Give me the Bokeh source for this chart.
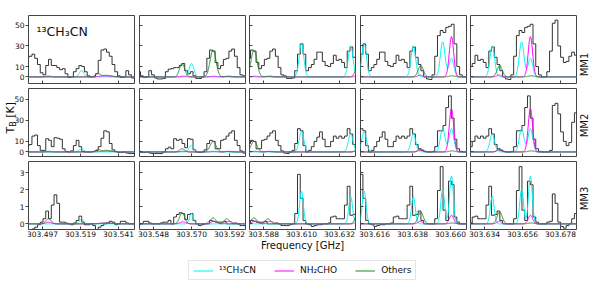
import numpy as np
from bokeh.plotting import figure
from bokeh.layouts import column, row
from bokeh.models import (Range1d, FixedTicker, PrintfTickFormatter, Label, Legend, LegendItem)
from bokeh.core.properties import value
from bokeh.embed import file_html
from bokeh.resources import INLINE

FONT = "DejaVu Sans"
SOURCES = ["MM1", "MM2", "MM3"]
TICK0 = [303.497, 303.548, 303.588, 303.616, 303.634]
TICK_STEP = 0.022
YTICKS = [[0, 10, 30, 50], [0, 10, 30, 50], [0, 1, 2, 3]]
YLIM = [(-6.4, 59.5), (-4.3, 60.0), (-0.33, 3.65)]

CHAN_FREQ = [
    303.4885, 303.4901, 303.4917, 303.4933, 303.4949, 303.4965, 303.4981, 303.4997, 303.5013, 303.5029,
    303.5045, 303.5061, 303.5077, 303.5093, 303.5109, 303.5125, 303.5141, 303.5157, 303.5173, 303.5189,
    303.5205, 303.5221, 303.5237, 303.5253, 303.5269, 303.5285, 303.5301, 303.5317, 303.5333, 303.5349,
    303.5365, 303.5381, 303.5397, 303.5413, 303.5429, 303.5445, 303.5461, 303.5477, 303.5493, 303.5509,
    303.5525, 303.5541, 303.5557, 303.5573, 303.5589, 303.5605, 303.5621, 303.5637, 303.5653, 303.5669,
    303.5685, 303.5701, 303.5717, 303.5733, 303.5749, 303.5765, 303.5781, 303.5797, 303.5813, 303.5829,
    303.5845, 303.5861, 303.5877, 303.5893, 303.5909, 303.5925, 303.5941, 303.5957, 303.5973, 303.5989,
    303.6005, 303.6021, 303.6037, 303.6053, 303.6069, 303.6085, 303.6101, 303.6117, 303.6133, 303.6149,
    303.6165, 303.6181, 303.6197, 303.6213, 303.6229, 303.6245, 303.6261, 303.6277, 303.6293, 303.6309,
    303.6325, 303.6341, 303.6357, 303.6373, 303.6389, 303.6405, 303.6421, 303.6437, 303.6453, 303.6469,
    303.6485, 303.6501, 303.6517, 303.6533, 303.6549, 303.6565, 303.6581, 303.6597, 303.6613, 303.6629,
    303.6645, 303.6661, 303.6677, 303.6693, 303.6709, 303.6725, 303.6741, 303.6757, 303.6773, 303.6789,
    303.6805, 303.6821, 303.6837, 303.6853, 303.6869, 303.6885]

TB_MM1 = [
    19, 20, 22, 18, 12, 4, 2, 11, 17, 11,
    11, 9, 7, 8, 3, -0.5, 0, 5, 8, 11,
    10, 5, 1, 0, 0, 3, 16, 26, 27, 24,
    20, 12, 5, 1, -0.5, 0, 6, 2, -1, -2,
    -2, -1.5, 5, 7.5, 8, 9, 9, 11, 13, 6,
    3, 5, 1, -1.5, -1.5, 0, 5, 18, 26, 25,
    14, 8, 11, 17, 18, 25, 27, 20, 9, 2,
    1, -1.5, -1.5, -1, 6, 22, 32, 22, 6, 9,
    12, 17, 24, 24, 15, 11, 10, 13, 21, 16,
    17, 14, 9, 25, 29, 19, 12, 6, 0, -2,
    -2.5, 2, 20, 40, 45, 43, 48, 49, 51, 32,
    10, 2, 0, 0, 5, 25, 52, 55, 30, 19,
    14, 15, 20, 24, 21, 21]

TB_MM2 = [
    6, 7, 15, 16, 6, 1.5, 1.5, 12.5, 11, 5,
    13.5, 13, 12, 3, 0.5, 0, 1, 6, 11, 5,
    0.5, 0, 0, 0, 0.5, 1.5, 5, 13, 20, 19,
    8, 2, 0.5, -0.5, -0.5, 0, -1, -1.5, -1.5, -1.5,
    -1.5, 0, 3, 4.5, 3, 12.5, 11, 12, 8, 4,
    12.5, 12, 2, 0, -0.5, 0, 2, 8, 11, 10,
    3, 3, 11, 12, 15, 18, 20, 11, 6, 1,
    -1, -1.5, 0, 1.5, 8, 22, 20, 6, 0, 1.5,
    5, 10, 14, 19, 12, 5, 5, 10, 15, 13,
    15, 13, 15, 22, 17, 7, 3, 1.5, 0.5, 0,
    0, 0.5, 5, 20, 20, 25, 42, 53, 32, 12,
    3, 0.5, 0, 0, 0, 1.5, 44, 46, 36, 19,
    10, 6, 9, 28, 37, 37]

TB_MM3 = [
    -0.35, -0.35, -0.3, -0.2, -0.05, 0.1, 0.3, 0.75, 0.3, 1.1,
    1.7, 1.2, 0.1, 0.1, 0.05, 0, -0.05, 0.05, 0.2, 0.45,
    0.1, -0.05, -0.05, 0, -0.1, -0.35, -0.2, -0.1, 0, 0.05,
    0.15, 0.1, -0.05, 0, 0.15, 0.15, 0.05, 0, 0, 0,
    0.05, 0.1, 0.1, 0.2, 0, 0.4, 0.55, 0.65, 0.6, 0.25,
    0.55, 0.6, 0.2, 0, -0.1, -0.05, 0, 0, 0.2, 0.15,
    0.1, 0.1, 0.1, 0.15, 0, 0, 0, 0.05, 0, -0.1,
    -0.1, -0.1, -0.05, 0, 0.6, 2.9, 1.5, 0.2, 0, -0.05,
    -0.15, -0.1, -0.05, -0.05, 0, 0, 0.05, 0.4, 0.45, 0.3,
    0.3, 0.3, 1.1, 2.2, 0.5, 0.55, 0.75, 0.2, 0, 0,
    0, 0, 0.3, 1.95, 3.35, 0.8, 0.2, 2.5, 2.3, 0.4,
    0.1, 0, 0, 0, 0.1, 0.15, 1.75, 1.2, 0.1, -0.15,
    -0.25, -0.1, 0, 0.3, 0.6, 0.6]

# Fitted Gaussian components (centre GHz, peak K, FWHM GHz)
CH3CN_NU = [303.5196, 303.5700, 303.6100, 303.6385, 303.6555, 303.6606]
CH3CN_PEAK = {"MM1": [6, 13, 32, 30, 34, 18],
              "MM2": [3, 6, 19, 17, 22, 22],
              "MM3": [0.3, 0.6, 1.9, 1.6, 2.0, 2.8]}
CH3CN_FWHM = {"MM1": 0.0032, "MM2": 0.0032, "MM3": 0.0026}

NH2CHO_NU = [303.5005, 303.5335, 303.5650, 303.5830, 303.5920, 303.6425, 303.6606]
NH2CHO_PEAK = {"MM1": [0.8, 1.0, 0.6, 0.6, 0.7, 1.8, 39],
               "MM2": [0.6, 0.8, 0.6, 0.6, 0.6, 1.8, 41],
               "MM3": [0.1, 0.05, 0.12, 0.15, 0.15, 0.15, 0.5]}
NH2CHO_FWHM = [0.004, 0.008, 0.004, 0.004, 0.004, 0.003, 0.003]

OTHERS_NU = [303.5005, 303.5290, 303.5340, 303.5646, 303.5825, 303.5905, 303.6428, 303.6610]
OTHERS_PEAK = {"MM1": [0.0, 3.0, 1.5, 13, 26, 0.5, 11, 1.0],
               "MM2": [0.0, 2.0, 1.5, 3, 10, 0.5, 3, 1.0],
               "MM3": [0.3, 0.0, 0.05, 0.65, 0.35, 0.3, 0.7, 0.05]}
OTHERS_FWHM = [0.0035, 0.003, 0.007, 0.0035, 0.0040, 0.0035, 0.0035, 0.004]

MODEL_FREQ = np.linspace(303.484, 303.692, 1600)


def model(nus, peaks, fwhms):
    out = np.zeros_like(MODEL_FREQ)
    for nu, pk, fw in zip(nus, peaks, fwhms):
        out += pk * np.exp(-4 * np.log(2) * (MODEL_FREQ - nu) ** 2 / fw ** 2)
    return out


SPECTRA = {"MM1": TB_MM1, "MM2": TB_MM2, "MM3": TB_MM3}
C_CYAN, C_MAG, C_GREEN = "#00f0f0", "#ff00ff", "#1a8a1a"
EDGE = "#444444"
TXT = "#111111"

FRAME_W, FRAME_H = 106, 68
LEFT_B = [28, 3, 2, 3, 2]
RIGHT_B = [2, 2, 2, 2, 2]
TOP_B = [15, 3, 3]
BOT_B = [2, 2, 12]
ROW_H = [TOP_B[0] + FRAME_H + BOT_B[0], TOP_B[1] + FRAME_H + BOT_B[1], TOP_B[2] + FRAME_H + 21]
STRIP_W = 25   # left strip of the middle row: tick numbers + y-axis title
MM_W = 12


def text_fig(w, h):
    f = figure(frame_width=w, frame_height=h, output_backend="svg", toolbar_location=None,
               min_border=0, x_axis_location=None, y_axis_location=None,
               x_range=Range1d(0, w), y_range=Range1d(h, 0))
    f.outline_line_color = None
    f.grid.grid_line_color = None
    f.border_fill_color = "white"
    return f


models = {}
rows = []
for r, src in enumerate(SOURCES):
    figs = []
    cy = model(CH3CN_NU, CH3CN_PEAK[src], [CH3CN_FWHM[src]] * len(CH3CN_NU))
    mg = model(NH2CHO_NU, NH2CHO_PEAK[src], NH2CHO_FWHM)
    gr = model(OTHERS_NU, OTHERS_PEAK[src], OTHERS_FWHM)
    models[src] = (cy, mg, gr)
    yr = Range1d(*YLIM[r])
    if r == 1:
        strip = figure(frame_width=STRIP_W, frame_height=FRAME_H, output_backend="svg",
                       toolbar_location=None, min_border_left=0, min_border_right=0,
                       min_border_top=TOP_B[1], min_border_bottom=BOT_B[1],
                       x_axis_location=None, y_axis_location=None,
                       x_range=Range1d(0, STRIP_W), y_range=yr)
        strip.outline_line_color = None
        strip.grid.grid_line_color = None
        strip.border_fill_color = "white"
        # tick numbers, placed on the shared y scale of the MM2 panels
        strip.text(x=[23.5] * len(YTICKS[1]), y=YTICKS[1], text=[str(t) for t in YTICKS[1]],
                   text_align="right", text_baseline="middle", text_font=value(FONT),
                   text_font_size="7.5px", text_color=TXT)
        # y-axis title  T_B [K]
        strip.text(x=[10, 12.5, 10], y=[17.4, 23.8, 32.3], text=["T", "B", "[K]"],
                   angle=[np.pi / 2] * 3, text_font=value(FONT),
                   text_font_size=["11px", "8px", "11px"], text_baseline="middle",
                   text_align="left", text_color=TXT)
        figs.append(strip)
    for c, t0 in enumerate(TICK0):
        x0, x1 = t0 - 0.0081, t0 + 0.0533
        lb = LEFT_B[c] - (STRIP_W if (r == 1 and c == 0) else 0)
        p = figure(frame_width=FRAME_W, frame_height=FRAME_H, output_backend="svg",
                   toolbar_location=None, x_range=Range1d(x0, x1), y_range=yr,
                   min_border_left=lb, min_border_right=RIGHT_B[c],
                   min_border_top=TOP_B[r], min_border_bottom=BOT_B[r])
        p.grid.visible = False
        p.outline_line_color = EDGE
        p.outline_line_width = 1
        p.background_fill_color = "white"
        p.border_fill_color = "white"

        xa = p.xaxis[0]
        xa.ticker = FixedTicker(ticks=[t0, t0 + TICK_STEP, t0 + 2 * TICK_STEP])
        xa.formatter = PrintfTickFormatter(format="%.3f")
        xa.major_tick_in = 3
        xa.major_tick_out = 0
        xa.minor_tick_in = 0
        xa.minor_tick_out = 0
        xa.axis_line_color = None
        xa.major_tick_line_color = EDGE
        if r == 2:
            xa.major_label_text_font_size = "7.5px"
            xa.major_label_text_font = FONT
            xa.major_label_text_color = TXT
            xa.major_label_standoff = 1
            if c == 2:
                xa.axis_label = "Frequency [GHz]"
                xa.axis_label_text_font = FONT
                xa.axis_label_text_font_size = "10px"
                xa.axis_label_text_font_style = "normal"
                xa.axis_label_standoff = 0
                xa.axis_label_text_color = TXT
        else:
            xa.major_label_text_font_size = "0px"
            xa.major_label_standoff = 0

        ya = p.yaxis[0]
        ya.ticker = FixedTicker(ticks=YTICKS[r])
        ya.minor_tick_in = 0
        ya.minor_tick_out = 0
        ya.axis_line_color = None
        ya.major_tick_line_color = EDGE
        if c == 0:
            ya.major_tick_in = 0
            ya.major_tick_out = 3
            if r == 1:
                ya.major_label_text_font_size = "0px"
                ya.major_label_standoff = 0
            else:
                ya.major_label_text_font_size = "7.5px"
                ya.major_label_text_font = FONT
                ya.major_label_text_color = TXT
                ya.major_label_standoff = 1
        else:
            ya.major_tick_in = 3
            ya.major_tick_out = 0
            ya.major_label_text_font_size = "0px"
            ya.major_label_standoff = 0

        p.step(CHAN_FREQ, SPECTRA[src], mode="center", line_color="#333333", line_width=1)
        p.line(MODEL_FREQ, cy, line_color=C_CYAN, line_width=1)
        p.line(MODEL_FREQ, mg, line_color=C_MAG, line_width=1)
        p.line(MODEL_FREQ, gr, line_color=C_GREEN, line_width=1, line_alpha=0.9)

        px = (x1 - x0) / FRAME_W
        if r == 0 and c == 0:
            p.add_layout(Label(x=x0 + 8 * px, y=44.2, text="¹³CH₃CN", text_font=FONT,
                               text_font_size="12.5px", text_baseline="alphabetic",
                               text_color=TXT))
        figs.append(p)
    mm = text_fig(MM_W, ROW_H[r])
    mm.text(x=[6], y=[TOP_B[r] + FRAME_H / 2], text=[src], angle=np.pi / 2,
            text_font=value(FONT), text_font_size="10px", text_baseline="middle",
            text_align="center", text_color=TXT)
    figs.append(mm)
    rows.append(row(*figs))

# legend strip (its renderers use the MM1 model curves, which fall outside this strip's range)
lf = figure(frame_width=590, frame_height=27, output_backend="svg", toolbar_location=None,
            min_border=0, x_axis_location=None, y_axis_location=None,
            x_range=Range1d(0, 1), y_range=Range1d(0, 1))
lf.outline_line_color = None
lf.grid.grid_line_color = None
cy1, mg1, gr1 = models["MM1"]
r1 = lf.line(MODEL_FREQ, cy1, line_color=C_CYAN, line_width=1)
r2 = lf.line(MODEL_FREQ, mg1, line_color=C_MAG, line_width=1)
r3 = lf.line(MODEL_FREQ, gr1, line_color=C_GREEN, line_width=1)
leg = Legend(items=[LegendItem(label="¹³CH₃CN", renderers=[r1]),
                    LegendItem(label="NH₂CHO", renderers=[r2]),
                    LegendItem(label="Others", renderers=[r3])],
             orientation="horizontal", location=(188, 0), margin=0, padding=4,
             spacing=18, glyph_width=20, glyph_height=9, label_height=9,
             label_standoff=6, label_text_font=FONT, label_text_font_size="9px",
             label_text_color=TXT,
             border_line_color="#cccccc", border_line_width=1,
             background_fill_color="white")
lf.add_layout(leg)

page = column(*rows, lf)
open("out.html", "w").write(file_html(page, INLINE))
